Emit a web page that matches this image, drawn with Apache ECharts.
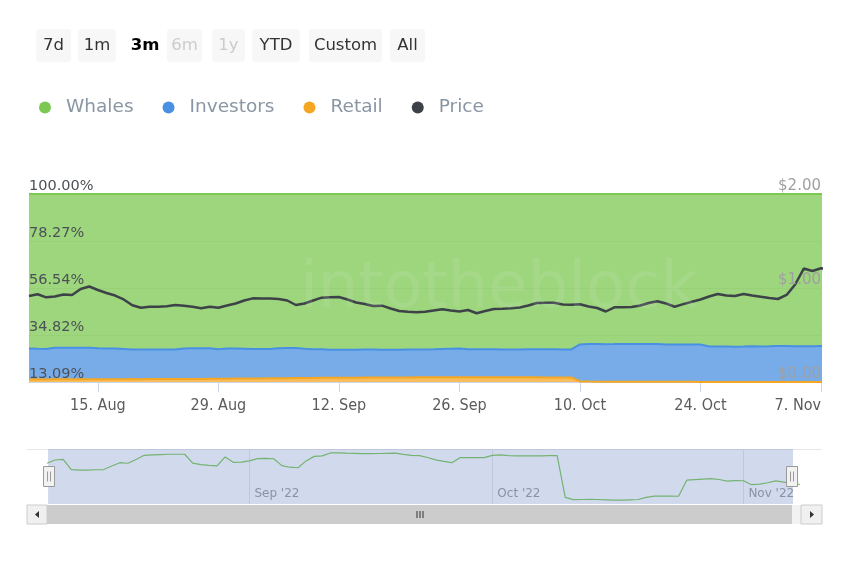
<!DOCTYPE html>
<html><head><meta charset="utf-8">
<script src="https://cdn.jsdelivr.net/npm/echarts@6/dist/echarts.min.js"></script>
<style>html,body{margin:0;padding:0;background:#fff}#c{width:850px;height:567px}</style>
</head><body><div id="c"></div>
<script>
// ---------- data ----------
const startDay = '2022-08-07'; // first daily point; one value per day
const whales = [
71.41,71.59,71.63,71.06,71.03,71.03,71.05,71.06,71.26,71.44,
71.41,71.62,71.85,71.87,71.89,71.91,71.91,71.91,71.42,71.33,
71.29,71.26,71.76,71.46,71.47,71.54,71.67,71.68,71.66,71.28,
71.19,71.16,71.54,71.79,71.82,71.98,71.99,71.97,71.96,71.94,
71.94,71.95,71.96,71.97,71.90,71.85,71.83,71.73,71.60,71.51,
71.44,71.72,71.72,71.72,71.72,71.85,71.87,71.83,71.82,71.82,
71.82,71.82,71.83,71.83,69.52,69.39,69.40,69.41,69.40,69.38,
69.36,69.36,69.38,69.40,69.52,69.59,69.59,69.59,69.58,70.47,
70.50,70.53,70.56,70.51,70.42,70.45,70.44,70.22,70.25,70.33,
70.43,70.36,70.29,70.23];
const investors = [
14.29,14.10,14.07,14.61,14.63,14.62,14.61,14.58,14.36,14.19,
14.20,13.98,13.73,13.72,13.68,13.64,13.65,13.63,14.10,14.20,
14.21,14.19,13.66,13.92,13.87,13.76,13.60,13.56,13.54,13.88,
13.94,13.94,13.53,13.25,13.18,13.00,12.96,12.95,12.94,12.94,
12.92,12.89,12.86,12.83,12.88,12.91,12.92,13.00,13.12,13.20,
13.26,12.97,12.98,12.99,13.00,12.88,12.87,12.92,12.94,12.95,
12.96,12.97,12.97,12.98,17.16,17.33,17.34,17.34,17.36,17.39,
17.42,17.43,17.42,17.41,17.30,17.24,17.25,17.26,17.28,16.40,
16.38,16.36,16.34,16.39,16.48,16.46,16.47,16.68,16.64,16.55,
16.45,16.51,16.57,16.62];
const retail = [
14.30,14.31,14.30,14.33,14.34,14.35,14.34,14.36,14.38,14.37,
14.39,14.40,14.42,14.41,14.43,14.45,14.44,14.46,14.48,14.47,
14.50,14.55,14.58,14.62,14.66,14.70,14.73,14.76,14.80,14.84,
14.87,14.90,14.93,14.96,15.00,15.02,15.05,15.08,15.10,15.12,
15.14,15.16,15.18,15.20,15.22,15.24,15.25,15.27,15.28,15.29,
15.30,15.31,15.30,15.29,15.28,15.27,15.26,15.25,15.24,15.23,
15.22,15.21,15.20,15.19,13.32,13.28,13.26,13.25,13.24,13.23,
13.22,13.21,13.20,13.19,13.18,13.17,13.16,13.15,13.14,13.13,
13.12,13.11,13.10,13.10,13.10,13.09,13.09,13.10,13.11,13.12,
13.12,13.13,13.14,13.15];
const price = [
0.915,0.933,0.901,0.910,0.931,0.926,0.989,1.016,0.979,0.947,
0.920,0.878,0.816,0.790,0.801,0.801,0.806,0.819,0.812,0.800,
0.784,0.801,0.790,0.814,0.835,0.867,0.890,0.888,0.888,0.883,
0.867,0.819,0.835,0.867,0.897,0.901,0.904,0.878,0.846,0.830,
0.809,0.812,0.782,0.755,0.747,0.741,0.748,0.761,0.773,0.761,
0.750,0.766,0.731,0.755,0.777,0.779,0.784,0.793,0.814,0.840,
0.844,0.843,0.824,0.822,0.827,0.803,0.787,0.750,0.795,0.795,
0.798,0.814,0.840,0.859,0.835,0.801,0.828,0.854,0.878,0.910,
0.936,0.920,0.915,0.936,0.920,0.907,0.894,0.883,0.926,1.037,
1.207,1.181,1.210,1.200];
const xTickDates = ['2022-08-15','2022-08-29','2022-09-12','2022-09-26','2022-10-10','2022-10-24','2022-11-07'];
const xTickLabels = ['15. Aug','29. Aug','12. Sep','26. Sep','10. Oct','24. Oct','7. Nov'];
const leftTickLabels = ['13.09%','34.82%','56.54%','78.27%','100.00%'];
const rightTickLabels = ['$0.00','$1.00','$2.00'];
const navMonthDates = ['2022-09-01','2022-10-01','2022-11-01'];
const navMonthLabels = ["Sep '22","Oct '22","Nov '22"];
const windowRange = ['2022-08-07T00:00:00Z','2022-11-07T00:00:00Z'];
const navRange = ['2022-08-04T12:45:00Z','2022-11-10T17:00:00Z'];
const seriesNames = ['Whales','Investors','Retail','Price'];
const rangeButtons = ['7d','1m','3m','6m','1y','YTD','Custom','All'];

// ---------- helpers ----------
const DAY = 86400000;
const ts = s => new Date(s.length === 10 ? s + 'T00:00:00Z' : s).getTime();
const t0 = ts(startDay);
const dayTs = whales.map((_, i) => t0 + i * DAY);
const pairs = arr => arr.map((v, i) => [dayTs[i], v]);
// value first, day second: the stacked dimension is the first numeric column
const valueFirst = arr => arr.map((v, i) => [v, dayTs[i]]);
const xTickTs = xTickDates.map(ts);
const navMonthTs = navMonthDates.map(ts);
const findLabel = (vals, labels, v) => {
  const k = vals.findIndex(t => Math.abs(t - v) < 3600000);
  return k < 0 ? '' : labels[k];
};

const FONT = 'DejaVu Sans';
const COND = "'DejaVu Sans Condensed', 'Liberation Sans Narrow', 'DejaVu Sans'";
const C = { whales: '#7cc852', investors: '#4a90e2', retail: '#f5a623', price: '#3d4249' };
const PCT_MIN = 13.09, PCT_MAX = 100, PCT_STEP = 21.7275;

// ---------- range selector buttons (UI chrome) ----------
const btnBoxes = [[36,35],[78,38],[124,42],[167,35],[212,33],[252,48],[309,73],[390,35]];
const btnGraphics = [];
rangeButtons.forEach((b, i) => {
  const [x, w] = btnBoxes[i];
  const selected = b === '3m';
  const disabled = b === '6m' || b === '1y';
  btnGraphics.push({ type: 'rect', shape: { x, y: 29, width: w, height: 33, r: 3 },
    style: { fill: selected ? '#ffffff' : '#f7f7f7' }, silent: true });
  btnGraphics.push({ type: 'text', style: { text: b, x: x + w / 2, y: 46, align: 'center', verticalAlign: 'middle',
    font: (selected ? 'bold ' : '') + '16.5px ' + FONT, fill: disabled ? '#cccccc' : (selected ? '#000000' : '#333333') }, silent: true });
});

// scrollbar (UI chrome)
const scrollGraphics = [
  { type: 'rect', shape: { x: 47, y: 505, width: 754, height: 19 }, style: { fill: '#f2f2f2' }, silent: true },
  { type: 'rect', shape: { x: 47, y: 505, width: 745, height: 19 }, style: { fill: '#cccccc' }, silent: true },
  { type: 'rect', shape: { x: 27, y: 505, width: 20, height: 19 }, style: { fill: '#f0f0f0', stroke: '#cccccc', lineWidth: 1 }, silent: true },
  { type: 'rect', shape: { x: 801, y: 505, width: 21, height: 19 }, style: { fill: '#f0f0f0', stroke: '#cccccc', lineWidth: 1 }, silent: true },
  { type: 'polygon', shape: { points: [[35, 514.5], [39, 511], [39, 518]] }, style: { fill: '#333333' }, silent: true },
  { type: 'polygon', shape: { points: [[814, 514.5], [810, 511], [810, 518]] }, style: { fill: '#333333' }, silent: true },
  { type: 'line', shape: { x1: 417, y1: 511, x2: 417, y2: 518 }, style: { stroke: '#333333', lineWidth: 1 }, silent: true },
  { type: 'line', shape: { x1: 420, y1: 511, x2: 420, y2: 518 }, style: { stroke: '#333333', lineWidth: 1 }, silent: true },
  { type: 'line', shape: { x1: 423, y1: 511, x2: 423, y2: 518 }, style: { stroke: '#333333', lineWidth: 1 }, silent: true },
  { type: 'line', shape: { x1: 27, y1: 449.5, x2: 822, y2: 449.5 }, style: { stroke: '#e6e6e6', lineWidth: 1 }, silent: true }
];

const watermark = { type: 'text', z: 50, silent: true,
  style: { text: 'intotheblock', x: 300, y: 290, align: 'left', verticalAlign: 'middle',
    font: '64px ' + FONT, fill: 'rgba(235,235,235,0.13)' } };

const areaSeries = (name, arr, color) => ({
  name, type: 'line', stack: 'share', xAxisIndex: 0, yAxisIndex: 0,
  encode: { x: 1, y: 0 }, data: valueFirst(arr),
  showSymbol: false, symbol: 'none', lineStyle: { color, width: 2 }, itemStyle: { color },
  areaStyle: { color, opacity: 0.75 }
});

const chart = echarts.init(document.getElementById('c'), null, { renderer: 'canvas' });
chart.setOption({
  animation: false,
  backgroundColor: '#ffffff',
  legend: {
    data: seriesNames, top: 93, left: 34, icon: 'circle', itemWidth: 32, itemHeight: 12, itemGap: 29,
    textStyle: { color: '#8996a3', fontSize: 18.5, fontFamily: FONT }
  },
  grid: [
    { left: 29, right: 29, top: 194, bottom: 185 },
    { left: 27, right: 28, top: 449, height: 55 }
  ],
  xAxis: [
    { type: 'value', gridIndex: 0, min: ts(navRange[0]), max: ts(navRange[1]),
      axisLine: { show: true, lineStyle: { color: '#ccd6eb' } },
      axisTick: { show: true, customValues: xTickTs, length: 10, lineStyle: { color: '#ccd6eb' } },
      axisLabel: { customValues: xTickTs, formatter: v => findLabel(xTickTs, xTickLabels, v),
        color: '#5b5b5b', fontSize: 16, fontFamily: COND, margin: 16, alignMaxLabel: 'right' },
      splitLine: { show: false } },
    { type: 'value', gridIndex: 1, min: ts(navRange[0]), max: ts(navRange[1]),
      axisLine: { show: false },
      axisTick: { show: true, inside: true, length: 55, customValues: navMonthTs, lineStyle: { color: '#e6e6e6' } },
      axisLabel: { inside: true, customValues: navMonthTs, formatter: v => findLabel(navMonthTs, navMonthLabels, v),
        color: '#999999', fontSize: 12, fontFamily: FONT, align: 'left', padding: [0, 0, 0, 5], margin: 4 },
      splitLine: { show: false } }
  ],
  yAxis: [
    // share axis: labels drawn above the areas
    { type: 'value', gridIndex: 0, min: PCT_MIN, max: PCT_MAX, interval: PCT_STEP, z: 10,
      axisLine: { show: false }, axisTick: { show: false },
      axisLabel: { inside: true, margin: 0, verticalAlign: 'bottom',
        formatter: v => leftTickLabels[Math.round((v - PCT_MIN) / PCT_STEP)] || '',
        color: '#4c5157', fontSize: 14.5, fontFamily: FONT },
      splitLine: { show: false } },
    // price axis
    { type: 'value', gridIndex: 0, position: 'right', min: 0, max: 2, interval: 1, z: 10,
      axisLine: { show: false }, axisTick: { show: false },
      axisLabel: { inside: true, margin: 0, verticalAlign: 'bottom',
        formatter: v => rightTickLabels[Math.round(v)] || '',
        color: '#a0a0a0', fontSize: 15, fontFamily: FONT },
      splitLine: { show: false } },
    // navigator axis
    { type: 'value', gridIndex: 1, show: false,
      min: v => v.min - (v.max - v.min) * 0.08, max: v => v.max + (v.max - v.min) * 0.08 },
    // gridlines of the share axis, below the areas
    { type: 'value', gridIndex: 0, min: PCT_MIN, max: PCT_MAX, interval: PCT_STEP, z: 0,
      axisLine: { show: false }, axisTick: { show: false }, axisLabel: { show: false },
      splitLine: { show: true, lineStyle: { color: '#e6e6e6' } } }
  ],
  dataZoom: [{
    type: 'slider', xAxisIndex: 0, filterMode: 'none',
    startValue: ts(windowRange[0]), endValue: ts(windowRange[1]),
    left: 27, right: 28, top: 449, height: 55,
    backgroundColor: 'rgba(0,0,0,0)', borderColor: 'rgba(0,0,0,0)',
    fillerColor: 'rgba(102,133,194,0.3)',
    showDataShadow: false, showDetail: false, brushSelect: false,
    moveHandleSize: 0, moveHandleStyle: { opacity: 0 },
    handleIcon: 'path://M0,0L11,0L11,20L0,20Z M4,5L4,15 M7,5L7,15',
    handleSize: 20,
    handleStyle: { color: '#f2f2f2', borderColor: '#999999', borderWidth: 1 },
    emphasis: { handleStyle: { color: '#f2f2f2', borderColor: '#999999', borderWidth: 1 }, moveHandleStyle: { opacity: 0 } }
  }],
  graphic: btnGraphics.concat(scrollGraphics, [watermark]),
  series: [
    areaSeries('Retail', retail, C.retail),
    areaSeries('Investors', investors, C.investors),
    areaSeries('Whales', whales, C.whales),
    { name: 'Price', type: 'line', xAxisIndex: 0, yAxisIndex: 1, data: pairs(price), z: 5,
      showSymbol: false, symbol: 'none', lineStyle: { color: C.price, width: 2.5 }, itemStyle: { color: C.price } },
    { name: 'Navigator', type: 'line', xAxisIndex: 1, yAxisIndex: 2, data: pairs(whales),
      showSymbol: false, symbol: 'none', lineStyle: { color: '#7ac74f', width: 1.2 }, itemStyle: { color: '#7ac74f' } }
  ]
});
</script></body></html>
